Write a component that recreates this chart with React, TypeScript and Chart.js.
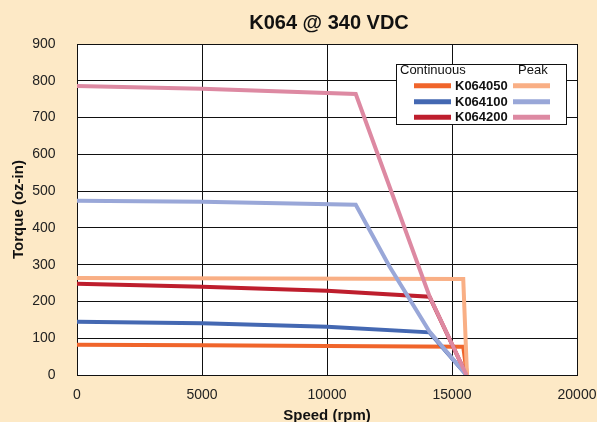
import React, { useEffect, useRef } from "react";
import { Chart, registerables } from "chart.js";

Chart.register(...registerables);

const TITLE = "K064 @ 340 VDC";
const X_TITLE = "Speed (rpm)";
const Y_TITLE = "Torque (oz-in)";
const LEGEND_CONT = "Continuous";
const LEGEND_PEAK = "Peak";
const SERIES_NAMES = ["K064050", "K064100", "K064200"];
const CONT_COLORS = ["#f0652b", "#4468b2", "#be1e2d"];
const PEAK_COLORS = ["#f9af85", "#99a7d8", "#dd89a2"];

const X_MIN = 0;
const X_MAX = 20000;
const X_STEP = 5000;
const Y_MIN = 0;
const Y_MAX = 900;
const Y_STEP = 100;

// Continuous curves
const K064050_CONT_SPEED = [0, 5000, 10000, 15450, 15600];
const K064050_CONT_TORQUE = [82, 81, 79, 77, 0];
const K064100_CONT_SPEED = [0, 5000, 10000, 14100, 15580];
const K064100_CONT_TORQUE = [145, 141, 131, 116, 0];
const K064200_CONT_SPEED = [0, 5000, 10000, 14100, 15580];
const K064200_CONT_TORQUE = [248, 240, 229, 213, 0];

// Peak curves
const K064050_PEAK_SPEED = [0, 15450, 15600];
const K064050_PEAK_TORQUE = [264, 261, 0];
const K064100_PEAK_SPEED = [0, 5000, 11150, 12500, 14100, 15580];
const K064100_PEAK_TORQUE = [474, 471, 463, 295, 118, 0];
const K064200_PEAK_SPEED = [0, 5000, 11150, 14100, 15580];
const K064200_PEAK_TORQUE = [786, 778, 764, 214, 0];

const FONT = "'Liberation Sans', Arial, Helvetica, sans-serif";
const BG = "#fde9c6";

const pts = (xs: number[], ys: number[]) => xs.map((x, i) => ({ x, y: ys[i] }));

export default function App() {
  const ref = useRef<HTMLCanvasElement | null>(null);

  useEffect(() => {
    if (!ref.current) return;

    const contData = [
      pts(K064050_CONT_SPEED, K064050_CONT_TORQUE),
      pts(K064100_CONT_SPEED, K064100_CONT_TORQUE),
      pts(K064200_CONT_SPEED, K064200_CONT_TORQUE),
    ];
    const peakData = [
      pts(K064050_PEAK_SPEED, K064050_PEAK_TORQUE),
      pts(K064100_PEAK_SPEED, K064100_PEAK_TORQUE),
      pts(K064200_PEAK_SPEED, K064200_PEAK_TORQUE),
    ];

    const datasets: any[] = [];
    // Chart.js draws dataset 0 on top: peaks (pink, light blue, peach), then continuous
    [2, 1, 0].forEach((i) => {
      datasets.push({
        label: SERIES_NAMES[i] + " Peak",
        data: peakData[i],
        borderColor: PEAK_COLORS[i],
        backgroundColor: PEAK_COLORS[i],
        borderWidth: 4,
        pointRadius: 0,
        tension: 0,
        fill: false,
      });
    });
    [2, 1, 0].forEach((i) => {
      datasets.push({
        label: SERIES_NAMES[i] + " Continuous",
        data: contData[i],
        borderColor: CONT_COLORS[i],
        backgroundColor: CONT_COLORS[i],
        borderWidth: 4,
        pointRadius: 0,
        tension: 0,
        fill: false,
      });
    });

    const bgPlugin = {
      id: "bgPlugin",
      beforeDraw(chart: any) {
        const { ctx, chartArea } = chart;
        ctx.save();
        ctx.fillStyle = BG;
        ctx.fillRect(0, 0, chart.width, chart.height);
        ctx.fillStyle = "#ffffff";
        ctx.fillRect(chartArea.left, chartArea.top, chartArea.right - chartArea.left, chartArea.bottom - chartArea.top);
        ctx.restore();
      },
    };

    const titlePlugin = {
      id: "titlePlugin",
      afterDraw(chart: any) {
        const { ctx, chartArea } = chart;
        ctx.save();
        ctx.font = `bold 20px ${FONT}`;
        ctx.fillStyle = "#111111";
        ctx.textAlign = "center";
        ctx.textBaseline = "middle";
        ctx.fillText(TITLE, (chartArea.left + chartArea.right) / 2 + 2, 23.5);
        ctx.restore();
      },
    };

    const legendPlugin = {
      id: "customLegend",
      afterDraw(chart: any) {
        const { ctx, chartArea } = chart;
        const w = 170;
        const h = 60;
        const bx = Math.round(chartArea.right - 11 - w);
        const by = Math.round(chartArea.top + 20);
        ctx.save();
        ctx.fillStyle = "#ffffff";
        ctx.fillRect(bx, by, w, h);
        ctx.strokeStyle = "#111111";
        ctx.lineWidth = 1;
        ctx.strokeRect(bx + 0.5, by + 0.5, w, h);
        ctx.fillStyle = "#111111";
        ctx.textBaseline = "middle";
        ctx.textAlign = "left";
        ctx.font = `13px ${FONT}`;
        ctx.fillText(LEGEND_CONT, bx + 4, by + 6.5);
        ctx.fillText(LEGEND_PEAK, bx + 122, by + 6.5);
        const rows = [21.7, 37.7, 53.3];
        SERIES_NAMES.forEach((name, i) => {
          const y = by + rows[i];
          ctx.lineWidth = 5;
          ctx.lineCap = "butt";
          ctx.strokeStyle = CONT_COLORS[i];
          ctx.beginPath();
          ctx.moveTo(bx + 18, y);
          ctx.lineTo(bx + 55, y);
          ctx.stroke();
          ctx.strokeStyle = PEAK_COLORS[i];
          ctx.beginPath();
          ctx.moveTo(bx + 117, y);
          ctx.lineTo(bx + 154, y);
          ctx.stroke();
          ctx.font = `bold 13px ${FONT}`;
          ctx.fillStyle = "#111111";
          ctx.fillText(name, bx + 59, y + 0.5);
        });
        ctx.restore();
      },
    };

    const chart = new Chart(ref.current, {
      type: "line",
      data: { datasets },
      plugins: [bgPlugin, titlePlugin, legendPlugin],
      options: {
        animation: false,
        responsive: false,
        devicePixelRatio: 1,
        layout: { padding: { top: 44, right: 20, bottom: 0, left: 0 } },
        plugins: {
          legend: { display: false },
          title: { display: false },
          tooltip: { enabled: false },
        },
        scales: {
          x: {
            type: "linear",
            min: X_MIN,
            max: X_MAX,
            ticks: {
              stepSize: X_STEP,
              padding: 12,
              color: "#222222",
              font: { family: FONT, size: 14 },
              maxRotation: 0,
              callback: (v: any) => String(v),
            },
            grid: { color: "#111111", lineWidth: 1, drawTicks: false },
            border: { display: true, color: "#111111", width: 1 },
            title: {
              display: true,
              text: X_TITLE,
              color: "#111111",
              font: { family: FONT, size: 15, weight: "bold", lineHeight: 0.8 },
              padding: { top: 0, bottom: 0 },
            },
            afterFit: (scale: any) => {
              scale.height = 47;
              scale.paddingLeft = 0;
              scale.paddingRight = 0;
            },
          },
          y: {
            type: "linear",
            min: Y_MIN,
            max: Y_MAX,
            ticks: {
              stepSize: Y_STEP,
              padding: 21.5,
              color: "#222222",
              font: { family: FONT, size: 14 },
              callback: (v: any) => String(v),
            },
            grid: { color: "#111111", lineWidth: 1, drawTicks: false },
            border: { display: true, color: "#111111", width: 1 },
            title: {
              display: true,
              text: Y_TITLE,
              color: "#111111",
              font: { family: FONT, size: 15, weight: "bold" },
              padding: { top: 9.5, bottom: 0 },
            },
            afterFit: (scale: any) => {
              scale.width = 77;
              scale.paddingTop = 0;
              scale.paddingBottom = 0;
            },
          },
        },
      } as any,
    });

    return () => chart.destroy();
  }, []);

  return (
    <div style={{ position: "absolute", left: 0, top: 0, width: 597, height: 422, background: BG }}>
      <canvas ref={ref} width={597} height={422} style={{ display: "block", width: 597, height: 422 }} />
    </div>
  );
}
